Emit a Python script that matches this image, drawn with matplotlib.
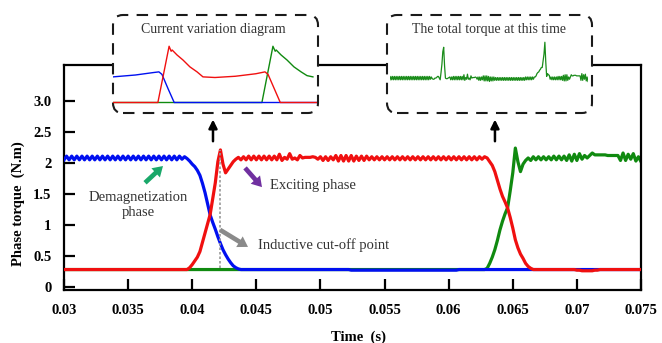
import numpy as np
import matplotlib.pyplot as plt
from matplotlib.patches import FancyBboxPatch

plt.rcParams['font.family'] = ['Liberation Serif', 'DejaVu Serif']

# sampling grid of the simulation output (s)
t = np.arange(226) * 0.0002 + 0.03

# phase torque (N.m), one row per 2 ms
torque_a = [
    2.05, 2.11, 2.05, 2.11, 2.05, 2.11, 2.05, 2.11, 2.05, 2.11,
    2.05, 2.11, 2.05, 2.11, 2.05, 2.11, 2.05, 2.11, 2.05, 2.11,
    2.05, 2.11, 2.05, 2.11, 2.05, 2.11, 2.05, 2.11, 2.05, 2.11,
    2.05, 2.11, 2.05, 2.11, 2.05, 2.11, 2.05, 2.11, 2.05, 2.11,
    2.05, 2.11, 2.05, 2.11, 2.05, 2.11, 2.06, 2.10, 2.07, 2.03,
    1.98, 1.94, 1.88, 1.80, 1.67, 1.52, 1.34, 1.16, 1.04, 0.93,
    0.81, 0.70, 0.60, 0.52, 0.45, 0.39, 0.34, 0.31, 0.29, 0.28,
    0.28, 0.28, 0.28, 0.28, 0.28, 0.28, 0.28, 0.28, 0.28, 0.28,
    0.28, 0.28, 0.28, 0.28, 0.28, 0.28, 0.28, 0.28, 0.28, 0.28,
    0.28, 0.28, 0.28, 0.28, 0.28, 0.28, 0.28, 0.28, 0.28, 0.28,
    0.28, 0.28, 0.28, 0.28, 0.28, 0.28, 0.28, 0.28, 0.28, 0.28,
    0.28, 0.28, 0.27, 0.27, 0.27, 0.27, 0.27, 0.27, 0.27, 0.27,
    0.27, 0.27, 0.27, 0.27, 0.27, 0.27, 0.27, 0.27, 0.27, 0.27,
    0.27, 0.27, 0.27, 0.27, 0.27, 0.27, 0.27, 0.27, 0.27, 0.27,
    0.27, 0.27, 0.27, 0.27, 0.27, 0.27, 0.27, 0.27, 0.27, 0.27,
    0.27, 0.27, 0.27, 0.27, 0.28, 0.28, 0.28, 0.28, 0.28, 0.28,
    0.28, 0.28, 0.28, 0.28, 0.28, 0.28, 0.28, 0.28, 0.28, 0.28,
    0.28, 0.28, 0.28, 0.28, 0.28, 0.28, 0.28, 0.28, 0.28, 0.28,
    0.28, 0.28, 0.28, 0.28, 0.28, 0.28, 0.28, 0.28, 0.28, 0.28,
    0.28, 0.28, 0.28, 0.28, 0.28, 0.28, 0.28, 0.28, 0.28, 0.28,
    0.28, 0.28, 0.28, 0.28, 0.28, 0.28, 0.28, 0.28, 0.28, 0.28,
    0.28, 0.28, 0.28, 0.28, 0.28, 0.28, 0.28, 0.28, 0.28, 0.28,
    0.28, 0.28, 0.28, 0.28, 0.28, 0.28,
]
torque_b = [
    0.28, 0.28, 0.28, 0.28, 0.28, 0.28, 0.28, 0.28, 0.28, 0.28,
    0.28, 0.28, 0.28, 0.28, 0.28, 0.28, 0.28, 0.28, 0.28, 0.28,
    0.28, 0.28, 0.28, 0.28, 0.28, 0.28, 0.28, 0.28, 0.28, 0.28,
    0.28, 0.28, 0.28, 0.28, 0.28, 0.28, 0.28, 0.28, 0.28, 0.28,
    0.28, 0.28, 0.28, 0.28, 0.28, 0.28, 0.28, 0.28, 0.28, 0.31,
    0.36, 0.42, 0.48, 0.57, 0.72, 0.87, 1.02, 1.17, 1.42, 1.68,
    2.02, 2.21, 1.98, 1.84, 1.90, 1.96, 2.02, 2.06, 2.09, 2.05,
    2.10, 2.05, 2.11, 2.05, 2.11, 2.05, 2.11, 2.05, 2.11, 2.05,
    2.11, 2.05, 2.11, 2.05, 2.14, 2.04, 2.09, 2.06, 2.15, 2.06,
    2.08, 2.05, 2.12, 2.08, 2.09, 2.09, 2.09, 2.10, 2.09, 2.06,
    2.10, 2.04, 2.10, 2.04, 2.10, 2.05, 2.12, 2.03, 2.12, 2.03,
    2.12, 2.03, 2.12, 2.03, 2.11, 2.04, 2.11, 2.04, 2.11, 2.05,
    2.10, 2.05, 2.10, 2.05, 2.10, 2.05, 2.10, 2.05, 2.10, 2.05,
    2.10, 2.05, 2.10, 2.05, 2.10, 2.05, 2.10, 2.05, 2.10, 2.05,
    2.10, 2.05, 2.10, 2.05, 2.10, 2.05, 2.10, 2.05, 2.10, 2.05,
    2.10, 2.05, 2.10, 2.05, 2.10, 2.05, 2.10, 2.05, 2.10, 2.05,
    2.10, 2.05, 2.10, 2.06, 2.10, 2.08, 2.02, 1.96, 1.86, 1.72,
    1.58, 1.46, 1.37, 1.27, 1.12, 0.95, 0.76, 0.63, 0.53, 0.46,
    0.38, 0.33, 0.30, 0.28, 0.28, 0.28, 0.28, 0.28, 0.28, 0.28,
    0.28, 0.28, 0.28, 0.28, 0.28, 0.28, 0.28, 0.28, 0.28, 0.28,
    0.27, 0.27, 0.26, 0.26, 0.26, 0.26, 0.26, 0.27, 0.27, 0.28,
    0.28, 0.28, 0.28, 0.28, 0.28, 0.28, 0.28, 0.28, 0.28, 0.28,
    0.28, 0.28, 0.28, 0.28, 0.28, 0.28,
]
torque_c = [
    0.28, 0.28, 0.28, 0.28, 0.28, 0.28, 0.28, 0.28, 0.28, 0.28,
    0.28, 0.28, 0.28, 0.28, 0.28, 0.28, 0.28, 0.28, 0.28, 0.28,
    0.28, 0.28, 0.28, 0.28, 0.28, 0.28, 0.28, 0.28, 0.28, 0.28,
    0.28, 0.28, 0.28, 0.28, 0.28, 0.28, 0.28, 0.28, 0.28, 0.28,
    0.28, 0.28, 0.28, 0.28, 0.28, 0.28, 0.28, 0.28, 0.28, 0.28,
    0.28, 0.28, 0.28, 0.28, 0.28, 0.28, 0.28, 0.28, 0.28, 0.28,
    0.28, 0.28, 0.28, 0.28, 0.28, 0.28, 0.28, 0.28, 0.28, 0.28,
    0.28, 0.28, 0.28, 0.28, 0.28, 0.28, 0.28, 0.28, 0.28, 0.28,
    0.28, 0.28, 0.28, 0.28, 0.28, 0.28, 0.28, 0.28, 0.28, 0.28,
    0.28, 0.28, 0.28, 0.28, 0.28, 0.28, 0.28, 0.28, 0.28, 0.28,
    0.28, 0.28, 0.28, 0.28, 0.28, 0.28, 0.28, 0.28, 0.28, 0.28,
    0.28, 0.28, 0.28, 0.28, 0.28, 0.28, 0.28, 0.28, 0.28, 0.28,
    0.28, 0.28, 0.28, 0.28, 0.28, 0.28, 0.28, 0.28, 0.28, 0.28,
    0.28, 0.28, 0.28, 0.28, 0.28, 0.28, 0.28, 0.28, 0.28, 0.28,
    0.28, 0.28, 0.28, 0.28, 0.28, 0.28, 0.28, 0.28, 0.28, 0.28,
    0.28, 0.28, 0.28, 0.28, 0.28, 0.28, 0.28, 0.28, 0.28, 0.28,
    0.28, 0.28, 0.28, 0.28, 0.28, 0.30, 0.38, 0.48, 0.60, 0.75,
    0.92, 1.06, 1.18, 1.28, 1.55, 1.84, 2.24, 2.02, 1.86, 1.98,
    2.04, 2.08, 2.04, 2.10, 2.05, 2.10, 2.05, 2.10, 2.05, 2.10,
    2.05, 2.11, 2.05, 2.11, 2.05, 2.11, 2.04, 2.13, 2.03, 2.14,
    2.04, 2.15, 2.06, 2.12, 2.08, 2.12, 2.16, 2.13, 2.13, 2.13,
    2.13, 2.13, 2.12, 2.12, 2.12, 2.12, 2.12, 2.04, 2.16, 2.04,
    2.14, 2.06, 2.15, 2.03, 2.10, 2.02,
]

# phase currents over one conduction period (normalised time, p.u.)
cur_a_t = [0.0, 0.11, 0.20, 0.225, 0.24, 0.27, 0.30, 1.0]
cur_a = [0.41, 0.44, 0.48, 0.49, 0.45, 0.22, 0.0, 0.0]
cur_b_t = [0.0, 0.22, 0.275, 0.285, 0.29, 0.314, 0.343, 0.377, 0.412, 0.441,
           0.50, 0.60, 0.70, 0.745, 0.76, 0.82, 1.0]
cur_b = [0.0, 0.0, 0.90, 0.82, 0.84, 0.76, 0.68, 0.57, 0.49, 0.41,
         0.40, 0.42, 0.46, 0.49, 0.45, 0.0, 0.0]
cur_c_t = [0.0, 0.73, 0.784, 0.795, 0.80, 0.824, 0.853, 0.887, 0.922, 0.951, 0.98]
cur_c = [0.0, 0.0, 0.90, 0.82, 0.84, 0.76, 0.68, 0.57, 0.49, 0.43, 0.41]

blue = '#0010f0'
red = '#f01010'
green = '#108a10'

fig = plt.figure(figsize=(6.62, 3.43), dpi=100)
W, H = 662.0, 343.0


def px_axes(x0, y0, x1, y1, **kw):
    # axes placed by pixel box, y measured from the top
    return fig.add_axes([x0 / W, 1 - y1 / H, (x1 - x0) / W, (y1 - y0) / H], **kw)


ax = px_axes(64, 65, 641, 290)
ax.plot(t, torque_c, color=green, lw=2.3, zorder=2, solid_joinstyle='round')
ax.plot(t, torque_a, color=blue, lw=2.3, zorder=3, solid_joinstyle='round')
ax.plot(t, torque_b, color=red, lw=2.3, zorder=4, solid_joinstyle='round')

# inductive cut-off marker at the red peak
t_cut = t[61]
ax.plot([t_cut, t_cut], [0.30, torque_b[61]], color='#999999', lw=1.2,
        ls=(0, (1.5, 1.2)), zorder=5)

ax.set_xlim(0.03, 0.075)
ax.set_ylim(-0.05, 3.58)
xt = [0.03, 0.035, 0.04, 0.045, 0.05, 0.055, 0.06, 0.065, 0.07, 0.075]
ax.set_xticks(xt)
ax.set_xticklabels(['0.03', '0.035', '0.04', '0.045', '0.05', '0.055',
                    '0.06', '0.065', '0.07', '0.075'])
yt = [0, 0.5, 1, 1.5, 2, 2.5, 3.0]
ax.set_yticks(yt)
ax.set_yticklabels(['0', '0.5', '1', '1.5', '2', '2.5', '3.0'])
ax.tick_params(direction='in', length=8, width=1.6, labelsize=10.5, pad=10)
ax.tick_params(axis='y', pad=9)
for lab in ax.get_xticklabels() + ax.get_yticklabels():
    lab.set_fontweight('bold')
for s in ax.spines.values():
    s.set_linewidth(1.6)

fig.text(18 / W, 1 - 204 / H, 'Phase torque  (N.m)', rotation=90, ha='center',
         va='center', fontsize=10.5, fontweight='bold')
fig.text(358 / W, 1 - 337 / H, 'Time  (s)', ha='center', va='center',
         fontsize=10.5, fontweight='bold')

# annotations
txt = dict(fontsize=10.5, color='#333333')
ax.text(0.03577, 1.32, 'Demagnetization\nphase', ha='center', va='center',
        linespacing=1.15, **txt)
ax.text(0.04607, 1.63, 'Exciting phase', ha='left', va='center', **txt)
ax.text(0.04513, 0.68, 'Inductive cut-off point', ha='left', va='center', **txt)


def fat_arrow(tail, head, color):
    ax.annotate('', xy=head, xytext=tail, zorder=6,
                arrowprops=dict(arrowstyle='simple,head_width=0.75,head_length=0.6,tail_width=0.28',
                                mutation_scale=12, color=color, lw=0, shrinkA=0, shrinkB=0))


fat_arrow((0.03632, 1.68), (0.03772, 1.95), '#1aa86a')
fat_arrow((0.04412, 1.92), (0.04544, 1.61), '#7030a0')
fat_arrow((0.04217, 0.92), (0.04435, 0.645), '#8a8a8a')

# pointers up to the detail boxes
for tx in (0.04162, 0.06361):
    ax.annotate('', xy=(tx, 2.70), xytext=(tx, 2.35), zorder=6,
                arrowprops=dict(arrowstyle='-|>,head_width=0.25,head_length=0.5',
                                color='black', lw=1.8, shrinkA=0, shrinkB=0))

# dashed detail boxes over the top frame
for x0 in (1.13, 3.87):
    box = FancyBboxPatch((x0, 2.30), 2.05, 0.98,
                         boxstyle='round,pad=0,rounding_size=0.1',
                         transform=fig.dpi_scale_trans, facecolor='white',
                         edgecolor='#1a1a1a', lw=1.5, ls=(0, (5.5, 4)), zorder=5)
    fig.add_artist(box)

fig.text(213 / W, 1 - 30 / H, 'Current variation diagram', ha='center',
         va='center', fontsize=10, color='#333333', zorder=7)
fig.text(489 / W, 1 - 30 / H, 'The total torque at this time', ha='center',
         va='center', fontsize=10, color='#333333', zorder=7)

ins1 = px_axes(113, 40, 317, 105, zorder=8)
ins1.plot(cur_c_t, cur_c, color=green, lw=1.0)
ins1.plot(cur_a_t, cur_a, color=blue, lw=1.0)
ins1.plot(cur_b_t, cur_b, color=red, lw=1.0)
ins1.set_xlim(0, 1)
ins1.set_ylim(-0.04, 1.0)
ins1.axis('off')

total = np.array(torque_a) + np.array(torque_b) + np.array(torque_c)
ins2 = px_axes(390, 40, 588, 105, zorder=8)
ins2.plot(t, total, color='#1a8c1a', lw=0.9)
ins2.set_xlim(0.03, 0.075)
ins2.set_ylim(2.16, 3.32)
ins2.axis('off')

fig.savefig('out.png', dpi=100)
